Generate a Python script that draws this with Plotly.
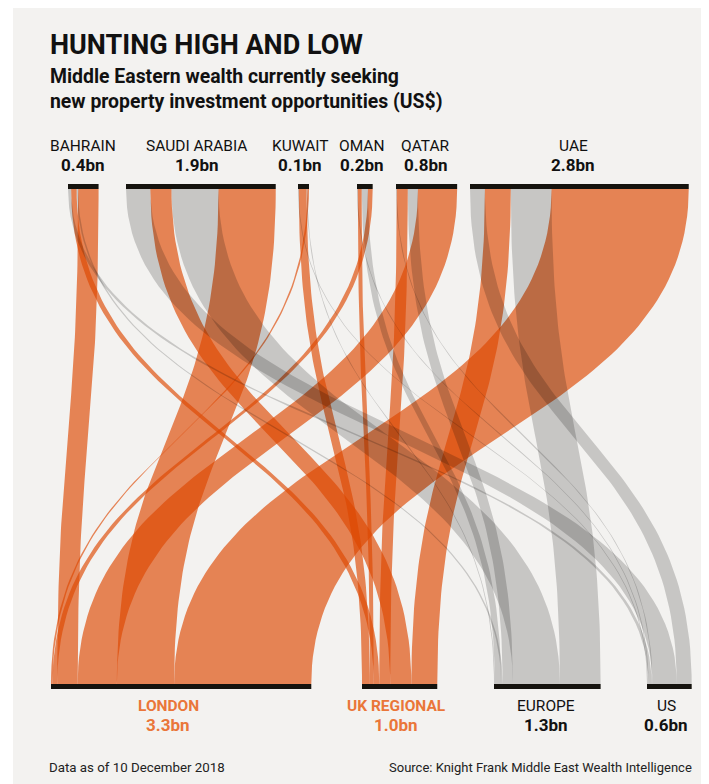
import plotly.graph_objects as go
import numpy as np

# ---------------- DATA ----------------
sources = ["BAHRAIN", "SAUDI ARABIA", "KUWAIT", "OMAN", "QATAR", "UAE"]
source_value_labels = ["0.4bn", "1.9bn", "0.1bn", "0.2bn", "0.8bn", "2.8bn"]
targets = ["LONDON", "UK REGIONAL", "EUROPE", "US"]
target_value_labels = ["3.3bn", "1.0bn", "1.3bn", "0.6bn"]

# flows in US$bn, one list per destination, in the order of `sources`
flow_london = [0.26, 0.73, 0.02, 0.06, 0.50, 1.75]
flow_uk_regional = [0.07, 0.27, 0.10, 0.05, 0.14, 0.33]
flow_europe = [0.02, 0.60, 0.01, 0.08, 0.13, 0.52]
flow_us = [0.04, 0.31, 0.01, 0.01, 0.01, 0.19]

# ---------------- LAYOUT CONSTANTS ----------------
W, H = 709, 784
OFF = 8  # default page margin of the html body
PX_PER_BN = 78.4
TOP_Y, BOT_Y, BAR_H = 189, 684, 5
top_left = [68, 126, 298, 357, 396, 470]
bot_left = [51, 362, 494, 647]
top_label_x = [82.5, 196.5, 300, 362, 425.5, 573]
bot_label_x = [168, 396, 546, 666]

ORANGE = "rgba(221,71,0,0.65)"
GREY = "rgba(0,0,0,0.18)"
BAR = "#15130e"
BG = "#f3f2f0"
LABEL_ORANGE = "#ea7639"
target_fill = [ORANGE, ORANGE, GREY, GREY]
target_label_color = [LABEL_ORANGE, LABEL_ORANGE, "#111111", "#111111"]
target_name_bold = [True, True, False, False]

flows = np.array([flow_london, flow_uk_regional, flow_europe, flow_us]).T  # [source, target]
src_tot = flows.sum(axis=1)
tgt_tot = flows.sum(axis=0)

# order of ribbons inside each node: ascending by the other node's total
tgt_order = list(np.argsort(tgt_tot))
src_order = list(np.argsort(src_tot))

top_x = np.zeros_like(flows)
for s in range(len(sources)):
    cur = top_left[s]
    for t in tgt_order:
        top_x[s, t] = cur
        cur += flows[s, t] * PX_PER_BN
bot_x = np.zeros_like(flows)
for t in range(len(targets)):
    cur = bot_left[t]
    for s in src_order:
        bot_x[s, t] = cur
        cur += flows[s, t] * PX_PER_BN


def bez(xa, xb, n=80):
    tt = np.linspace(0, 1, n)
    ym = (TOP_Y + BOT_Y) / 2
    x = (1 - tt) ** 3 * xa + 3 * (1 - tt) ** 2 * tt * xa + 3 * (1 - tt) * tt ** 2 * xb + tt ** 3 * xb
    y = (1 - tt) ** 3 * TOP_Y + 3 * (1 - tt) ** 2 * tt * ym + 3 * (1 - tt) * tt ** 2 * ym + tt ** 3 * BOT_Y
    return x, y


fig = go.Figure()
# orange ribbons first, grey ones on top
for group in ([0, 1], [2, 3]):
    for t in group:
        for s in range(len(sources)):
            w = flows[s, t] * PX_PER_BN
            if w <= 0:
                continue
            lx, ly = bez(top_x[s, t], bot_x[s, t])
            rx, ry = bez(top_x[s, t] + w, bot_x[s, t] + w)
            xs = np.concatenate([lx, rx[::-1], lx[:1]])
            ys = np.concatenate([ly, ry[::-1], ly[:1]])
            fig.add_trace(go.Scatter(x=xs, y=ys, mode="lines", fill="toself",
                                     fillcolor=target_fill[t], line=dict(width=0),
                                     hoverinfo="skip", showlegend=False))

shapes = [dict(type="rect", xref="x", yref="y", x0=13, x1=W, y0=5, y1=H,
               fillcolor=BG, line=dict(width=0), layer="below")]
for s in range(len(sources)):
    shapes.append(dict(type="rect", xref="x", yref="y", x0=top_left[s],
                       x1=top_left[s] + src_tot[s] * PX_PER_BN,
                       y0=TOP_Y - BAR_H, y1=TOP_Y, fillcolor=BAR, line=dict(width=0)))
for t in range(len(targets)):
    shapes.append(dict(type="rect", xref="x", yref="y", x0=bot_left[t],
                       x1=bot_left[t] + tgt_tot[t] * PX_PER_BN,
                       y0=BOT_Y, y1=BOT_Y + BAR_H, fillcolor=BAR, line=dict(width=0)))

FONT = "Roboto, Liberation Sans, sans-serif"
ann = []
ann.append(dict(x=48, y=45, text="<b>HUNTING HIGH AND LOW</b>", xanchor="left", yanchor="middle",
                font=dict(family=FONT, size=27, color="#111111")))
ann.append(dict(x=48, y=89, text="<b>Middle Eastern wealth currently seeking<br>new property investment opportunities (US$)</b>",
                xanchor="left", yanchor="middle", align="left",
                font=dict(family=FONT, size=19.4, color="#111111")))
for s in range(len(sources)):
    ann.append(dict(x=top_label_x[s], y=146, text=sources[s], xanchor="center", yanchor="middle",
                    font=dict(family=FONT, size=15.5, color="#111111")))
    ann.append(dict(x=top_label_x[s], y=165, text="<b>" + source_value_labels[s] + "</b>", xanchor="center",
                    yanchor="middle", font=dict(family=FONT, size=17, color="#111111")))
for t in range(len(targets)):
    name = "<b>" + targets[t] + "</b>" if target_name_bold[t] else targets[t]
    ann.append(dict(x=bot_label_x[t], y=706, text=name, xanchor="center", yanchor="middle",
                    font=dict(family=FONT, size=15.5, color=target_label_color[t])))
    ann.append(dict(x=bot_label_x[t], y=725, text="<b>" + target_value_labels[t] + "</b>", xanchor="center",
                    yanchor="middle", font=dict(family=FONT, size=17, color=target_label_color[t])))
ann.append(dict(x=47, y=767, text="Data as of 10 December 2018", xanchor="left", yanchor="middle",
                font=dict(family=FONT, size=13.3, color="#222222")))
ann.append(dict(x=694, y=767, text="Source: Knight Frank Middle East Wealth Intelligence", xanchor="right",
                yanchor="middle", font=dict(family=FONT, size=13, color="#222222")))
for a in ann:
    a.update(xref="x", yref="y", showarrow=False)

fig.update_layout(
    width=W - OFF, height=H - OFF, margin=dict(l=0, r=0, t=0, b=0),
    paper_bgcolor="white", plot_bgcolor="rgba(0,0,0,0)",
    xaxis=dict(range=[OFF, W], visible=False, fixedrange=True),
    yaxis=dict(range=[H, OFF], visible=False, fixedrange=True),
    shapes=shapes, annotations=ann, showlegend=False,
)
fig.write_html("out.html")
